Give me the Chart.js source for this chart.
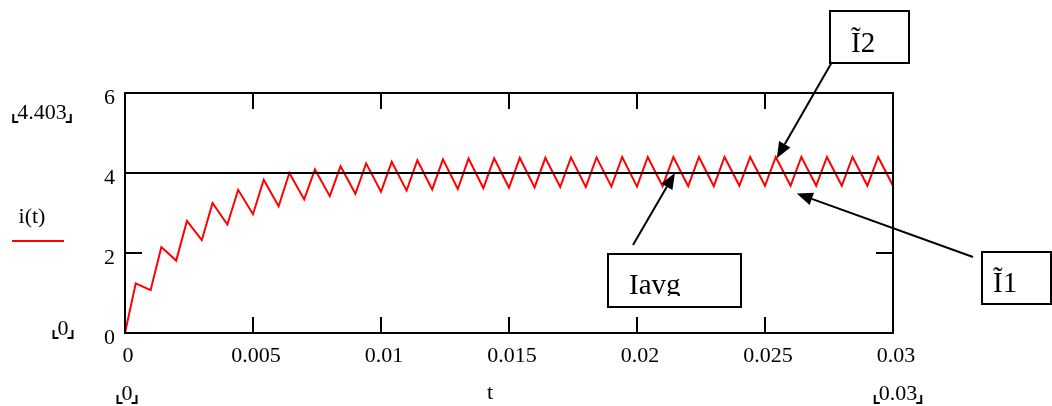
<!DOCTYPE html>
<html>
<head>
<meta charset="utf-8">
<title>i(t)</title>
<script src="https://cdn.jsdelivr.net/npm/chart.js@4.4.1/dist/chart.umd.min.js"></script>
<style>
  html, body { margin: 0; padding: 0; background: #fff; }
  canvas { display: block; }
</style>
</head>
<body>
<canvas id="plot" width="1052" height="406"></canvas>
<script>
// time samples (s): troughs at whole ms, peaks ~0.42 ms later
const tValues = [
  0,
  0.00042, 0.001, 0.00142, 0.002, 0.00242, 0.003, 0.00342, 0.004, 0.00442, 0.005,
  0.00542, 0.006, 0.00642, 0.007, 0.00742, 0.008, 0.00842, 0.009, 0.00942, 0.010,
  0.01042, 0.011, 0.01142, 0.012, 0.01242, 0.013, 0.01342, 0.014, 0.01442, 0.015,
  0.01542, 0.016, 0.01642, 0.017, 0.01742, 0.018, 0.01842, 0.019, 0.01942, 0.020,
  0.02042, 0.021, 0.02142, 0.022, 0.02242, 0.023, 0.02342, 0.024, 0.02442, 0.025,
  0.02542, 0.026, 0.02642, 0.027, 0.02742, 0.028, 0.02842, 0.029, 0.02942, 0.030
];

// current i(t)
const iValues = [
  0,
  1.24, 1.07, 2.15, 1.81, 2.80, 2.32, 3.25, 2.71, 3.58, 2.97,
  3.83, 3.17, 4.00, 3.34, 4.09, 3.42, 4.17, 3.48, 4.24, 3.53,
  4.28, 3.56, 4.32, 3.59, 4.34, 3.60, 4.36, 3.62, 4.37, 3.63,
  4.38, 3.64, 4.38, 3.65, 4.39, 3.65, 4.39, 3.66, 4.40, 3.66,
  4.40, 3.67, 4.40, 3.67, 4.40, 3.67, 4.40, 3.68, 4.40, 3.68,
  4.40, 3.68, 4.40, 3.68, 4.40, 3.68, 4.40, 3.68, 4.40, 3.68
];

const iAvg = 4.0;

const xTicks = [0, 0.005, 0.01, 0.015, 0.02, 0.025, 0.03];
const xTickLabels = ["0", "0.005", "0.01", "0.015", "0.02", "0.025", "0.03"];
const yTicks = [0, 2, 4, 6];
const yTickLabels = ["0", "2", "4", "6"];

const serif = '"Liberation Serif", "Times New Roman", serif';

function limitLabel(ctx, text, cx, base) {
  ctx.textAlign = "center";
  ctx.textBaseline = "alphabetic";
  ctx.fillText(text, cx, base);
  const w = ctx.measureText(text).width;
  const lx = cx - w / 2 - 4;
  const rx = cx + w / 2 + 4;
  ctx.beginPath();
  ctx.moveTo(lx, base - 5); ctx.lineTo(lx, base + 3); ctx.lineTo(lx + 5, base + 3);
  ctx.moveTo(rx, base - 5); ctx.lineTo(rx, base + 3); ctx.lineTo(rx - 5, base + 3);
  ctx.stroke();
}

function arrow(ctx, x1, y1, x2, y2) {
  const ang = Math.atan2(y2 - y1, x2 - x1);
  const len = 16, half = 6.5;
  const bx = x2 - len * Math.cos(ang), by = y2 - len * Math.sin(ang);
  ctx.beginPath();
  ctx.moveTo(x1, y1);
  ctx.lineTo(bx, by);
  ctx.stroke();
  ctx.beginPath();
  ctx.moveTo(x2, y2);
  ctx.lineTo(bx + half * Math.sin(ang), by - half * Math.cos(ang));
  ctx.lineTo(bx - half * Math.sin(ang), by + half * Math.cos(ang));
  ctx.closePath();
  ctx.fill();
}

function boxLabel(ctx, text, x, y, w, h, tx, ty, clipBottom) {
  ctx.strokeRect(x, y, w, h);
  ctx.save();
  if (clipBottom) {
    ctx.beginPath();
    ctx.rect(x, y, w, clipBottom - y);
    ctx.clip();
  }
  ctx.font = "29px " + serif;
  ctx.textAlign = "left";
  ctx.textBaseline = "alphabetic";
  ctx.fillText(text, tx, ty);
  ctx.restore();
}

const mathcadDecor = {
  id: "mathcadDecor",
  afterDraw(chart) {
    const { ctx, chartArea: a } = chart;
    const x = chart.scales.x, y = chart.scales.y;
    ctx.save();
    ctx.strokeStyle = "#000";
    ctx.fillStyle = "#000";
    ctx.lineWidth = 2;

    // frame and inside ticks
    ctx.strokeRect(a.left, a.top, a.right - a.left, a.bottom - a.top);
    ctx.beginPath();
    xTicks.forEach(v => {
      if (v === x.min || v === x.max) return;
      const px = x.getPixelForValue(v);
      ctx.moveTo(px, a.bottom); ctx.lineTo(px, a.bottom - 16);
      ctx.moveTo(px, a.top); ctx.lineTo(px, a.top + 16);
    });
    yTicks.forEach(v => {
      if (v === y.min || v === y.max) return;
      const py = y.getPixelForValue(v);
      ctx.moveTo(a.left, py); ctx.lineTo(a.left + 17, py);
      ctx.moveTo(a.right, py); ctx.lineTo(a.right - 17, py);
    });
    ctx.stroke();

    // tick labels
    ctx.font = "22px " + serif;
    ctx.textBaseline = "alphabetic";
    ctx.textAlign = "center";
    xTicks.forEach((v, i) => ctx.fillText(xTickLabels[i], x.getPixelForValue(v) + 3, a.bottom + 29));
    ctx.textAlign = "right";
    yTicks.forEach((v, i) => ctx.fillText(yTickLabels[i], a.left - 10, y.getPixelForValue(v) + 11));

    // Mathcad range markers and axis names
    limitLabel(ctx, "4.403", 42, 119);
    limitLabel(ctx, "0", 63, 335);
    limitLabel(ctx, "0", 127, 400);
    limitLabel(ctx, "0.03", 898, 400);
    ctx.textAlign = "center";
    ctx.fillText("t", 490, 399);
    ctx.fillText("i(t)", 32, 223);
    ctx.strokeStyle = "#ff0000";
    ctx.beginPath();
    ctx.moveTo(12, 241); ctx.lineTo(64, 241);
    ctx.stroke();
    ctx.strokeStyle = "#000";

    // annotation boxes and arrows
    boxLabel(ctx, "\u01282", 830, 11, 79, 52, 851, 52);
    boxLabel(ctx, "\u01281", 982, 252, 69, 52, 993, 292);
    boxLabel(ctx, "Iavg", 608, 254, 133, 53, 629, 294, 296);
    arrow(ctx, 832, 62, x.getPixelForValue(0.02546), y.getPixelForValue(4.37));
    arrow(ctx, 633, 245, x.getPixelForValue(0.02148), y.getPixelForValue(4.0));
    arrow(ctx, 973, 257, x.getPixelForValue(0.02624), y.getPixelForValue(3.49));
    ctx.restore();
  }
};

const currentPoints = tValues.map((t, i) => ({ x: t, y: iValues[i] }));

new Chart(document.getElementById("plot"), {
  type: "scatter",
  data: {
    datasets: [
      {
        label: "Iavg",
        data: [{ x: 0, y: iAvg }, { x: 0.03, y: iAvg }],
        showLine: true,
        borderColor: "#000",
        borderWidth: 2,
        pointRadius: 0,
        order: 0
      },
      {
        label: "i(t)",
        data: currentPoints,
        showLine: true,
        borderColor: "#ff0000",
        borderWidth: 2,
        pointRadius: 0,
        tension: 0,
        order: 1
      }
    ]
  },
  options: {
    responsive: false,
    animation: false,
    layout: { padding: { left: 125, right: 159, top: 93, bottom: 73 } },
    plugins: { legend: { display: false }, tooltip: { enabled: false } },
    scales: {
      x: { type: "linear", min: 0, max: 0.03, display: false },
      y: { type: "linear", min: 0, max: 6, display: false }
    }
  },
  plugins: [mathcadDecor]
});
</script>
</body>
</html>
